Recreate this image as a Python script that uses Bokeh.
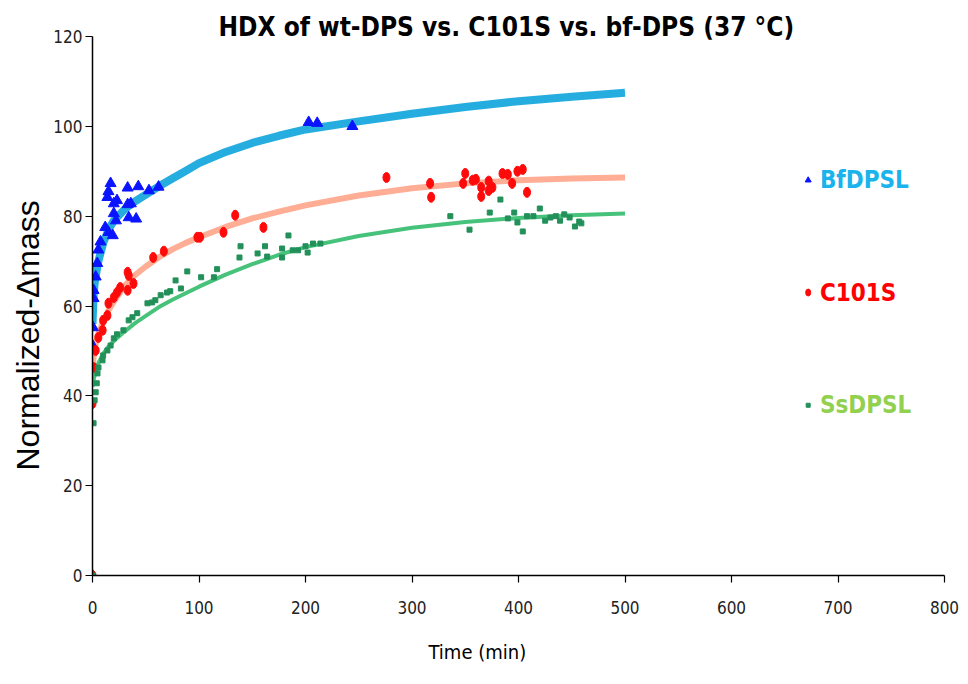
from bokeh.plotting import figure
from bokeh.models import Range1d, FixedTicker, Title
from bokeh.core.properties import value
from bokeh.embed import file_html
from bokeh.resources import INLINE

# ---------------- data ----------------
title_text = "HDX of wt-DPS vs. C101S vs. bf-DPS (37 °C)"
x_label = "Time (min)"
y_label = "Normalized-\u0394mass"
x_ticks = [0, 100, 200, 300, 400, 500, 600, 700, 800]
y_ticks = [0, 20, 40, 60, 80, 100, 120]
series_names = ["BfDPSL", "C101S", "SsDPSL"]

# BfDPSL (triangles)
bf_t = [0, 0, 0.5, 1, 1, 3, 4.5, 5.5, 7.5, 12, 14, 15, 15, 17, 19, 20, 20, 22, 23,
        33, 33, 34, 36, 41, 43, 53, 62, 203, 211, 244]
bf_v = [0, 51.2, 55.2, 61.7, 63.5, 66.5, 69.5, 72.5, 74.3, 77.5, 84.2, 76.4, 85.5, 87.3, 75.7, 80.6,
        82.8, 79.0, 83.5, 86.3, 82.6, 79.7, 82.8, 79.4, 86.6, 85.7, 86.5, 100.9, 100.7, 100.0]

# C101S (circles)
c1_t = [0, 0, 1, 3, 5.5, 9.5, 10, 14, 15, 20, 23, 26, 33, 33, 34, 38.5, 57, 67, 98.5, 101,
        123, 134, 160.5, 276, 317, 318, 348, 350, 357, 360, 365, 365, 372, 372, 375.5,
        385, 390, 394, 399, 404, 408]
c1_v = [0, 38.3, 46.3, 50.1, 53.0, 54.6, 56.8, 57.9, 60.6, 61.9, 63.0, 64.1, 67.5, 63.5, 66.8,
        65.0, 70.8, 72.2, 75.3, 75.3, 76.4, 80.2, 77.5, 88.6, 87.3, 84.2, 87.3, 89.5, 88.0,
        88.2, 86.4, 84.4, 87.8, 85.7, 86.4, 89.5, 89.3, 87.3, 90.0, 90.4, 85.3]

# SsDPSL (squares)
ss_t = [0, 1, 2, 3, 4, 4.7, 5.6, 9.4, 10, 14, 17, 20, 23, 29, 34, 37.5, 42, 51.6, 56, 59,
        64, 70, 73, 78, 83, 89, 102, 114, 117, 138, 139, 155, 162, 164, 178, 178, 184, 188,
        193, 200, 202, 207, 214, 336, 354, 373, 383, 390, 396, 399, 404, 408, 414, 420,
        425, 430, 435, 439, 443, 448, 453, 457, 459]
ss_v = [0, 33.9, 39.0, 40.8, 42.8, 45.0, 46.3, 47.9, 49.0, 50.1, 51.2, 52.8, 53.7, 54.6, 56.8,
        57.5, 58.4, 60.6, 60.8, 61.3, 62.4, 63.0, 63.3, 65.7, 63.9, 67.7, 66.4, 66.4, 68.2,
        70.8, 73.3, 71.7, 73.3, 71.0, 72.8, 70.8, 75.7, 72.4, 72.4, 73.3, 71.9, 73.9, 73.9,
        80.0, 77.0, 80.8, 83.7, 79.5, 80.8, 78.6, 76.6, 80.0, 80.0, 81.7, 79.0, 79.7, 80.0,
        79.0, 80.4, 79.7, 77.7, 78.8, 78.4]

# fitted curves
fit_t = [0, 1, 2, 5, 10, 15, 20, 30, 40, 50, 62, 75, 87, 100, 125, 150, 175, 200, 250,
         300, 350, 400, 450, 500]
bf_fit = [56.0, 62.0, 65.0, 69.5, 74.0, 77.0, 79.0, 81.5, 83.3, 84.8, 86.6, 88.4, 90.0,
          91.8, 94.3, 96.3, 97.9, 99.3, 101.1, 102.8, 104.3, 105.6, 106.6, 107.5]
c1_fit = [46.0, 48.5, 50.5, 53.5, 56.5, 59.0, 61.0, 64.5, 66.9, 68.8, 70.8, 72.6, 74.0,
          75.3, 77.6, 79.5, 81.0, 82.4, 84.6, 86.2, 87.3, 88.0, 88.4, 88.6]
ss_fit = [42.0, 43.5, 44.5, 47.0, 49.4, 51.0, 52.2, 54.3, 56.2, 57.8, 59.7, 61.4, 62.8,
          64.3, 67.0, 69.3, 71.4, 73.1, 75.6, 77.4, 78.7, 79.6, 80.2, 80.6]

# ---------------- figure ----------------
NARROW = "DejaVu Sans Condensed, Liberation Sans, sans-serif"
p = figure(width=968, height=684, output_backend="svg", toolbar_location=None,
           x_range=Range1d(0, 800), y_range=Range1d(0, 120),
           min_border_left=92, min_border_right=24, min_border_top=36, min_border_bottom=109,
           title=title_text)
p.outline_line_color = None
p.grid.visible = False
p.background_fill_color = "white"
p.border_fill_color = "white"

p.title.text_font = NARROW
p.title.text_font_size = "26px"
p.title.text_font_style = "bold"
p.title.text_color = "black"
p.title.align = "left"
p.title.offset = 126
p.title.standoff = -11

for ax in (p.xaxis[0], p.yaxis[0]):
    ax.axis_line_color = "black"
    ax.axis_line_width = 1.5
    ax.major_tick_line_color = "black"
    ax.major_tick_line_width = 1.2
    ax.major_tick_out = 7
    ax.major_tick_in = 0
    ax.minor_tick_line_color = None
    ax.major_label_text_font = NARROW
    ax.major_label_text_font_size = "17px"
    ax.major_label_text_color = "#222222"

p.xaxis.ticker = FixedTicker(ticks=x_ticks)
p.yaxis.ticker = FixedTicker(ticks=y_ticks)
p.xaxis.major_label_standoff = 18
p.yaxis.major_label_standoff = 3

# axis titles (offset like the original, so drawn as side titles)
p.add_layout(Title(text=x_label, text_font=NARROW, text_font_size="20px",
                   text_font_style="normal", text_color="black", align="left",
                   offset=336, standoff=42), "below")
p.add_layout(Title(text=y_label, text_font="Liberation Sans", text_font_size="32px",
                   text_font_style="normal", text_color="black", align="left",
                   offset=105, standoff=10), "left")

# fit curves
p.line(fit_t, bf_fit, line_color="#1aa9de", line_width=8, line_alpha=0.95, line_join="round")
p.line(fit_t, c1_fit, line_color="#ffa98e", line_width=6, line_alpha=0.95, line_join="round")
p.line(fit_t, ss_fit, line_color="#3cbf73", line_width=4, line_alpha=0.95, line_join="round")

# points
p.scatter(bf_t, bf_v, marker="triangle", size=11, fill_color="#0a14ff", line_color="#0a14ff")
p.ellipse(c1_t, c1_v, width=7, height=10, width_units="screen", height_units="screen",
          fill_color="#ff0a0a", line_color="#ff0a0a")
p.scatter(ss_t, ss_v, marker="square", size=5, fill_color="#23905a", line_color="#23905a")

# legend (drawn as text beside the plot area)
leg_colors_text = ["#1ab3ec", "#ff0000", "#92d050"]
leg_y = [88, 63, 37.9]
p.scatter([672], [leg_y[0]], marker="triangle", size=6, fill_color="#0a14ff", line_color="#0a14ff")
p.ellipse([672], [leg_y[1]], width=5, height=7, width_units="screen", height_units="screen",
          fill_color="#ff0a0a", line_color="#ff0a0a")
p.scatter([672], [leg_y[2]], marker="square", size=4, fill_color="#23905a", line_color="#23905a")
for name, col, yy in zip(series_names, leg_colors_text, leg_y):
    p.text([683], [yy], text=[name], text_color=col, text_font=value(NARROW),
           text_font_size="24px", text_font_style="bold", text_baseline="middle",
           text_align="left")

open("out.html", "w").write(file_html(p, INLINE))
